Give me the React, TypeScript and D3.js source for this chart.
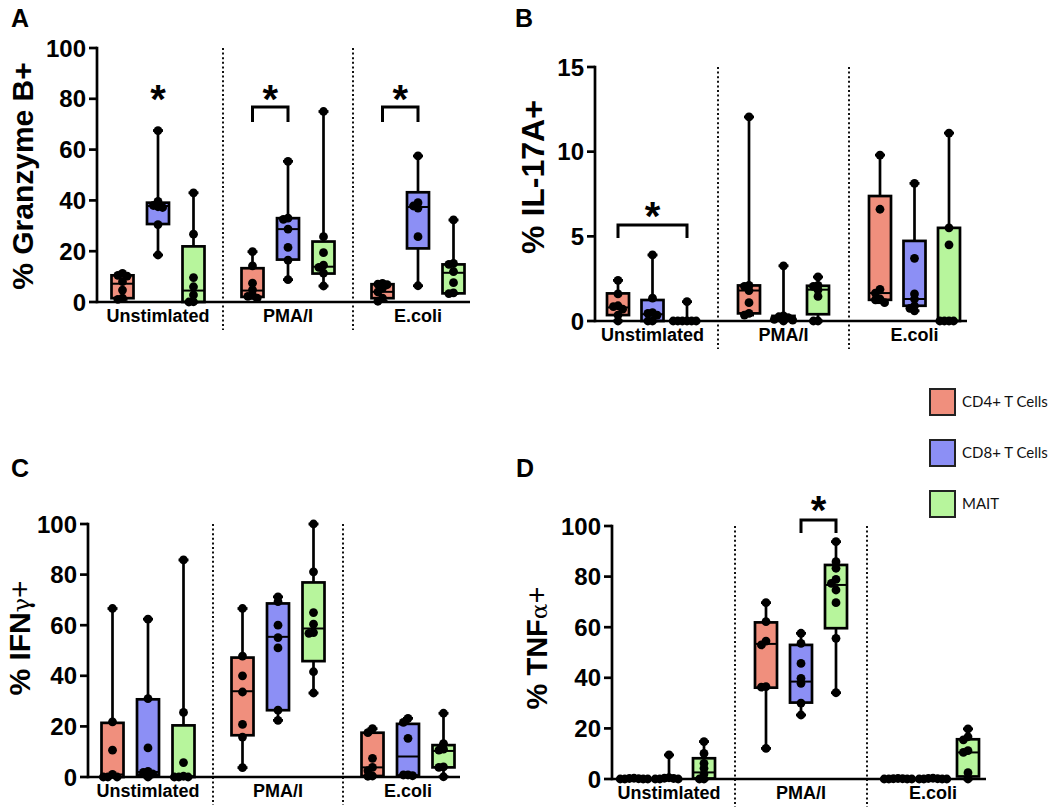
import React from "react";
import * as d3 from "d3";

const groups = ["Unstimlated", "PMA/I", "E.coli"];
const cellTypes = ["CD4+ T Cells", "CD8+ T Cells", "MAIT"];
const cellColors = ["#F08F7D", "#8C8FF5", "#B7F59C"];

// Panel A – % Granzyme B+
const gzbTicks = [0, 20, 40, 60, 80, 100];
const gzbCD4 = [[11.3, 10.5, 10.2, 8, 4.7, 1.5, 1.0], [19.8, 14.2, 7.4, 4.8, 2.6, 2.2, 1.5], [7.3, 7, 6.8, 5.5, 4, 1.5, 0.3]];
const gzbCD4Box = [[1.5, 7.2, 10.5], [2, 4.5, 13.3], [1.5, 4, 7]];
const gzbCD8 = [[67.5, 39.6, 38, 37.5, 37.2, 30.5, 18.5], [55.4, 33, 32.5, 28.7, 21.5, 16.5, 8.8], [57.5, 39.1, 37.8, 37, 25.7, 6.4]];
const gzbCD8Box = [[30.7, 37.8, 39.1], [16.7, 28.7, 33], [21.1, 37.4, 43.2]];
const gzbMAIT = [[43, 26.7, 9.6, 6, 2.8, 0.1, 0], [75, 25.7, 19.4, 14.5, 13.6, 11.4, 6.3], [32.3, 15.2, 14.8, 12, 7.6, 3.6, 3.3]];
const gzbMAITBox = [[0, 4.5, 21.9], [11.2, 13.9, 23.8], [3.4, 11.5, 14.8]];
const gzbSig = [
  { group: 0, from: 1, to: 1, bracket: null, leg: null, star: 83 },
  { group: 1, from: 0, to: 1, bracket: 76.8, leg: 70.9, star: 83 },
  { group: 2, from: 0, to: 1, bracket: 76.8, leg: 70.9, star: 83 },
];

// Panel B – % IL-17A+
const il17Ticks = [0, 5, 10, 15];
const il17CD4 = [[2.4, 1.6, 0.9, 0.85, 0.7, 0.35, 0], [12.05, 2.1, 2.05, 1.8, 1.08, 0.45, 0.35], [9.8, 6.6, 1.87, 1.65, 1.3, 1.25, 1.08]];
const il17CD4Box = [[0.35, 0.8, 1.63], [0.45, 1.8, 2.1], [1.25, 1.65, 7.38]];
const il17CD8 = [[3.9, 1.35, 0.5, 0.45, 0.35, 0, 0], [3.26, 0.3, 0.25, 0.2, 0.1, 0.05, 0], [8.13, 3.7, 1.6, 1.3, 0.9, 0.75, 0.6]];
const il17CD8Box = [[0, 0.4, 1.24], [0.05, 0.2, 0.3], [0.9, 1.3, 4.73]];
const il17MAIT = [[1.14, 0, 0, 0, 0, 0, 0], [2.6, 2.1, 2.05, 1.83, 1.45, 0, 0], [11.1, 5.5, 4.5, 0, 0, 0, 0]];
const il17MAITBox = [[0, 0, 0], [0.4, 1.85, 2.08], [0, 0, 5.5]];
const il17Sig = [{ group: 0, from: 0, to: 2, bracket: 5.67, leg: 4.9, star: 6.7 }];

// Panel C – % IFNγ+
const ifnTicks = [0, 20, 40, 60, 80, 100];
const ifnCD4 = [[66.6, 21.8, 10.6, 1, 0, 0, 0], [66.6, 47.8, 40, 33.6, 20.8, 15.8, 3.7], [19.1, 17.5, 7.4, 3.8, 2.5, 0.4, 0.3]];
const ifnCD4Box = [[0, 1, 21.4], [16.5, 33.9, 47.2], [0.4, 3.8, 17.5]];
const ifnCD8 = [[62.4, 31, 11.5, 2.2, 1.8, 1.2, 0], [71.2, 69.3, 60, 55.1, 51, 26.4, 22.4], [23.2, 21.6, 15.3, 0.8, 0.8, 0.5]];
const ifnCD8Box = [[0.9, 2, 30.7], [26.4, 55.4, 68.6], [0.6, 8.1, 21]];
const ifnMAIT = [[85.8, 25.5, 5.7, 0.3, 0, 0, 0], [100, 81.1, 65, 60.4, 57.1, 56.8, 41.6, 33.2], [25.2, 13.2, 11, 10.6, 4, 3.8, 0.1]];
const ifnMAITBox = [[0, 0.3, 20.4], [45.8, 58.7, 76.9], [3.8, 10.3, 12.6]];
const ifnSig = [];

// Panel D – % TNFα+
const tnfTicks = [0, 20, 40, 60, 80, 100];
const tnfCD4 = [[0.3, 0.2, 0.1, 0, 0, 0, 0], [69.7, 62.2, 54.5, 53, 36.5, 36.3, 12.1], [0.2, 0.1, 0.1, 0, 0, 0, 0]];
const tnfCD4Box = [[0, 0, 0.1], [36.1, 53.4, 61.9], [0, 0, 0.1]];
const tnfCD8 = [[9.5, 0.5, 0.3, 0.2, 0, 0, 0], [57.6, 53.6, 45.7, 39.8, 37.8, 30, 25.3], [0.3, 0.2, 0.1, 0, 0, 0, 0]];
const tnfCD8Box = [[0, 0.2, 0.4], [30.2, 38.5, 53], [0, 0, 0.2]];
const tnfMAIT = [[14.8, 10.1, 6.2, 4.2, 2, 0, 0], [93.8, 85.9, 83.3, 78.9, 77.3, 74.7, 69.7, 55.6, 34.1], [19.8, 16.7, 15.5, 11.2, 10.5, 2.5, 0]];
const tnfMAITBox = [[0.2, 2.6, 8.2], [59.6, 76.7, 84.6], [1, 10.5, 15.7]];
const tnfSig = [{ group: 1, from: 1, to: 2, bracket: 102.4, leg: 97.2, star: 109.5 }];

const FONT = "'Liberation Sans', Arial, Helvetica, sans-serif";

const panels = [
  {
    letter: "A", letterPos: [11, 27],
    title: ["% Granzyme B+", ""], titleSize: 30, titlePos: [33, 176],
    yMax: 100, ticks: gzbTicks, yRange: [302, 48], axisX: 97, band: [93, 483], inner: 35.5,
    points: [gzbCD4, gzbCD8, gzbMAIT], boxes: [gzbCD4Box, gzbCD8Box, gzbMAITBox], sig: gzbSig,
  },
  {
    letter: "B", letterPos: [515, 27],
    title: ["% IL-17A+", ""], titleSize: 32, titlePos: [544, 177],
    yMax: 15, ticks: il17Ticks, yRange: [321, 67], axisX: 595, band: [587, 980], inner: 34.5,
    points: [il17CD4, il17CD8, il17MAIT], boxes: [il17CD4Box, il17CD8Box, il17MAITBox], sig: il17Sig,
  },
  {
    letter: "C", letterPos: [11, 477],
    title: ["% IFN", "γ", "+"], titleSize: 30, titlePos: [30, 638],
    yMax: 100, ticks: ifnTicks, yRange: [777, 524], axisX: 88, band: [83, 473], inner: 35.5,
    points: [ifnCD4, ifnCD8, ifnMAIT], boxes: [ifnCD4Box, ifnCD8Box, ifnMAITBox], sig: ifnSig,
  },
  {
    letter: "D", letterPos: [516, 477],
    title: ["% TNF", "α", "+"], titleSize: 29, titlePos: [547, 648],
    yMax: 100, ticks: tnfTicks, yRange: [779, 526], axisX: 612, band: [603, 999], inner: 35,
    points: [tnfCD4, tnfCD8, tnfMAIT], boxes: [tnfCD4Box, tnfCD8Box, tnfMAITBox], sig: tnfSig,
  },
];

const R = 4.4;
const STEP = 4.6;

function swarm(vals: number[], y: (v: number) => number) {
  const placed: { x: number; y: number }[] = [];
  const order = vals.map((v, i) => ({ v, i })).sort((a, b) => b.v - a.v);
  const out: { x: number; y: number }[] = new Array(vals.length);
  for (const { v, i } of order) {
    const py = y(v);
    let chosen = 0;
    for (const k of [0, -1, 1, -2, 2, -3, 3, -4, 4]) {
      const dx = k * STEP;
      if (placed.every((p) => Math.hypot(p.x - dx, p.y - py) >= STEP * 0.98)) {
        chosen = dx;
        break;
      }
    }
    placed.push({ x: chosen, y: py });
    out[i] = { x: chosen, y: py };
  }
  return out;
}

function Panel({ p }: { p: any }) {
  const y = d3.scaleLinear().domain([0, p.yMax]).range(p.yRange);
  const gx = d3.scaleBand().domain(groups).range(p.band);
  const ix = d3.scalePoint().domain(cellTypes).range([-p.inner, p.inner]);
  const cx = (g: number, c: number) => (gx(groups[g]) as number) + gx.bandwidth() / 2 + (ix(cellTypes[c]) as number);
  const axisY = y(0);
  const axisEnd = p.band[1] - 13;
  const boxW = 22;
  const capW = 10;
  const sw = 2.7;
  const [tx, ty] = p.titlePos;
  return (
    <g>
      <text x={p.letterPos[0]} y={p.letterPos[1]} fontFamily={FONT} fontWeight="bold" fontSize={25}>{p.letter}</text>
      <text transform={`translate(${tx},${ty}) rotate(-90)`} textAnchor="middle" fontFamily={FONT} fontWeight="bold" fontSize={p.titleSize}>
        {p.title[0]}
        {p.title[1] ? <tspan fontWeight="normal" fontFamily="'DejaVu Serif', serif" fontSize={p.titleSize * 0.8}>{p.title[1]}</tspan> : null}
        {p.title[2] ? <tspan fontWeight="normal">{p.title[2]}</tspan> : null}
      </text>
      {/* dividers */}
      {groups.slice(1).map((g) => {
        const x = gx(g) as number;
        return <line key={g} x1={x} x2={x} y1={y(p.yMax)} y2={axisY + 28} stroke="#111" strokeWidth={2} strokeDasharray="2,2.6" />;
      })}
      {/* boxes */}
      {p.points.map((cellPts: number[][], c: number) =>
        cellPts.map((pts: number[], g: number) => {
          const x = cx(g, c);
          const [q1, med, q3] = p.boxes[c][g];
          const mn = d3.min(pts) as number;
          const mx = d3.max(pts) as number;
          const sp = swarm(pts, y);
          return (
            <g key={`${c}-${g}`}>
              <line x1={x} x2={x} y1={y(mn)} y2={y(mx)} stroke="#000" strokeWidth={sw} />
              <line x1={x - capW / 2} x2={x + capW / 2} y1={y(mx)} y2={y(mx)} stroke="#000" strokeWidth={sw} />
              <line x1={x - capW / 2} x2={x + capW / 2} y1={y(mn)} y2={y(mn)} stroke="#000" strokeWidth={sw} />
              <rect x={x - boxW / 2} y={y(q3)} width={boxW} height={Math.max(0, y(q1) - y(q3))} fill={cellColors[c]} stroke="#000" strokeWidth={sw} />
              <line x1={x - boxW / 2} x2={x + boxW / 2} y1={y(med)} y2={y(med)} stroke="#000" strokeWidth={2} />
              {sp.map((s, k) => (
                <circle key={k} cx={x + s.x} cy={s.y} r={R} fill="#000" />
              ))}
            </g>
          );
        })
      )}
      {/* axes */}
      <line x1={p.axisX} x2={p.axisX} y1={y(p.yMax)} y2={axisY} stroke="#000" strokeWidth={sw} strokeLinecap="square" />
      <line x1={p.axisX} x2={axisEnd} y1={axisY} y2={axisY} stroke="#000" strokeWidth={sw} />
      {p.ticks.map((t: number) => (
        <g key={t}>
          <line x1={p.axisX - 8} x2={p.axisX} y1={y(t)} y2={y(t)} stroke="#000" strokeWidth={sw} />
          <text x={p.axisX - 11} y={y(t)} dy="0.36em" textAnchor="end" fontFamily={FONT} fontWeight="bold" fontSize={24}>{t}</text>
        </g>
      ))}
      {groups.map((g) => (
        <text key={g} x={(gx(g) as number) + gx.bandwidth() / 2} y={axisY + 20} textAnchor="middle" fontFamily={FONT} fontWeight="bold" fontSize={18}>{g}</text>
      ))}
      {/* significance */}
      {p.sig.map((s: any, k: number) => {
        const x1 = cx(s.group, s.from);
        const x2 = cx(s.group, s.to);
        return (
          <g key={k}>
            {s.bracket != null ? (
              <path d={`M${x1},${y(s.leg)}V${y(s.bracket)}H${x2}V${y(s.leg)}`} fill="none" stroke="#000" strokeWidth={3} />
            ) : null}
            <text x={(x1 + x2) / 2} y={y(s.star) + 22} textAnchor="middle" fontFamily={FONT} fontWeight="bold" fontSize={40}>*</text>
          </g>
        );
      })}
    </g>
  );
}

const legendY = [402, 453, 504];

export default function App() {
  return (
    <svg width={1050} height={809} style={{ position: "absolute", left: 0, top: 0, background: "#fff" }}>
      {panels.map((p) => (
        <Panel key={p.letter} p={p} />
      ))}
      {cellTypes.map((c, i) => (
        <g key={c}>
          <rect x={930} y={legendY[i] - 13} width={25} height={26} fill={cellColors[i]} stroke="#222" strokeWidth={2} />
          <text x={962} y={legendY[i]} dy="0.35em" fontFamily="Lato, 'Noto Sans', sans-serif" fontSize={15} fill="#111">{c}</text>
        </g>
      ))}
    </svg>
  );
}
